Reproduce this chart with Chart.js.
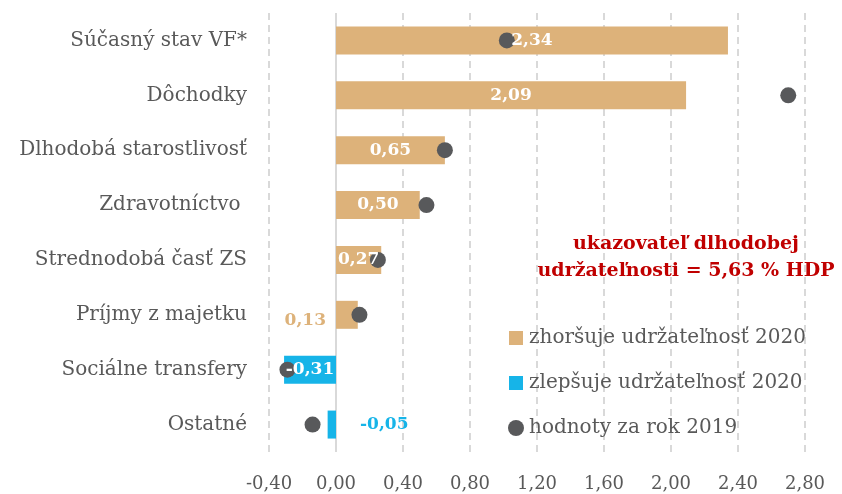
<!DOCTYPE html>
<html>
<head>
<meta charset="utf-8">
<script src="https://cdn.jsdelivr.net/npm/chart.js@4.4.0/dist/chart.umd.min.js"></script>
<style>
  html, body { margin: 0; padding: 0; background: #fff; }
  #wrap { width: 842px; height: 494px; }
</style>
</head>
<body>
<div id="wrap"><canvas id="chart" width="842" height="494"></canvas></div>
<script>
// categories and values
var categories = ['Súčasný stav VF*', 'Dôchodky', 'Dlhodobá starostlivosť', 'Zdravotníctvo ',
    'Strednodobá časť ZS', 'Príjmy z majetku', 'Sociálne transfery', 'Ostatné'];
var values2020 = [2.34, 2.09, 0.65, 0.50, 0.27, 0.13, -0.31, -0.05];
var values2019 = [1.02, 2.70, 0.65, 0.54, 0.25, 0.14, -0.29, -0.14];
var legendLabels = ['zhoršuje udržateľnosť 2020', 'zlepšuje udržateľnosť 2020', 'hodnoty za rok 2019'];
var noteLines = ['ukazovateľ dlhodobej', 'udržateľnosti = 5,63 % HDP'];

var TAN = '#DDB27A';
var BLUE = '#16B4E8';
var DOT = '#58595B';
var TEXT = '#595959';
var FONT = '"DejaVu Serif", "Liberation Serif", serif';

function fmt(v) {
    var r = Math.round(v * 100) / 100;
    if (r == 0) r = 0;
    return r.toFixed(2).replace('.', ',');
}

var barColors = values2020.map(v => v >= 0 ? TAN : BLUE);

// solid zero line, value labels, legend and the red note
var extrasPlugin = {
    id: 'extras',
    beforeDatasetsDraw(chart) {
        var ctx = chart.ctx;
        var x0 = chart.scales.x.getPixelForValue(0);
        var area = chart.chartArea;
        ctx.save();
        ctx.strokeStyle = '#D9D9D9';
        ctx.lineWidth = 2;
        ctx.beginPath();
        ctx.moveTo(x0, area.top);
        ctx.lineTo(x0, area.bottom);
        ctx.stroke();
        ctx.restore();
    },
    afterDatasetsDraw(chart) {
        var ctx = chart.ctx;
        var meta = chart.getDatasetMeta(0);
        ctx.save();
        ctx.font = 'bold 17px ' + FONT;
        ctx.textBaseline = 'middle';
        meta.data.forEach((bar, i) => {
            var v = values2020[i];
            var txt = fmt(v);
            var w = ctx.measureText(txt).width;
            var len = Math.abs(bar.x - bar.base);
            if (len > w + 2) {
                ctx.fillStyle = '#fff';
                ctx.textAlign = 'center';
                ctx.fillText(txt, (bar.x + bar.base) / 2, bar.y);
            } else if (v >= 0) {
                ctx.fillStyle = barColors[i];
                ctx.textAlign = 'right';
                ctx.fillText(txt, bar.base - 10, bar.y + 6);
            } else {
                ctx.fillStyle = barColors[i];
                ctx.textAlign = 'left';
                ctx.fillText(txt, bar.base + 24, bar.y);
            }
        });
        ctx.restore();
    },
    afterDraw(chart) {
        var ctx = chart.ctx;
        ctx.save();
        // red note
        ctx.fillStyle = '#C00000';
        ctx.font = 'bold 19px ' + FONT;
        ctx.textAlign = 'center';
        ctx.textBaseline = 'middle';
        ctx.fillText(noteLines[0], 686, 244);
        ctx.fillText(noteLines[1], 686, 271);

        // legend
        var lx = 509, ly = [338, 383, 428];
        ctx.font = '20px ' + FONT;
        ctx.textAlign = 'left';
        ctx.fillStyle = TAN;
        ctx.fillRect(lx, ly[0] - 7, 14, 14);
        ctx.fillStyle = BLUE;
        ctx.fillRect(lx, ly[1] - 7, 14, 14);
        ctx.fillStyle = DOT;
        ctx.beginPath();
        ctx.arc(lx + 7, ly[2], 8, 0, Math.PI * 2);
        ctx.fill();
        ctx.fillStyle = TEXT;
        legendLabels.forEach((t, i) => ctx.fillText(t, lx + 20, ly[i]));
        ctx.restore();
    }
};

var ctx = document.getElementById('chart').getContext('2d');
var chart = new Chart(ctx, {
    type: 'bar',
    data: {
        labels: categories,
        datasets: [{
            type: 'bar',
            label: legendLabels[0],
            data: values2020,
            backgroundColor: barColors,
            barPercentage: 0.51,
            categoryPercentage: 1,
            order: 1
        }, {
            type: 'line',
            label: legendLabels[2],
            data: values2019,
            indexAxis: 'y',
            showLine: false,
            pointRadius: 8,
            pointHoverRadius: 8,
            pointBackgroundColor: DOT,
            pointBorderWidth: 0,
            order: 0
        }]
    },
    options: {
        indexAxis: 'y',
        responsive: false,
        animation: false,
        layout: { padding: { top: 13, right: 37, left: 0, bottom: 0 } },
        plugins: {
            legend: { display: false },
            tooltip: { enabled: false }
        },
        scales: {
            x: {
                min: -0.4,
                max: 2.8,
                ticks: {
                    stepSize: 0.4,
                    color: TEXT,
                    font: { family: FONT, size: 18 },
                    padding: 22,
                    callback: v => fmt(v)
                },
                grid: { color: '#D9D9D9', lineWidth: 2, drawTicks: false },
                border: { display: false, dash: [7, 5] },
                afterFit(scale) {
                    scale.height = 42;
                    scale.paddingLeft = 0;
                    scale.paddingRight = 0;
                }
            },
            y: {
                ticks: {
                    color: TEXT,
                    font: { family: FONT, size: 20 },
                    padding: 22
                },
                grid: { display: false, drawTicks: false },
                border: { display: false },
                afterFit(scale) {
                    scale.width = 269;
                    scale.paddingTop = 0;
                    scale.paddingBottom = 0;
                }
            }
        }
    },
    plugins: [extrasPlugin]
});
</script>
</body>
</html>
